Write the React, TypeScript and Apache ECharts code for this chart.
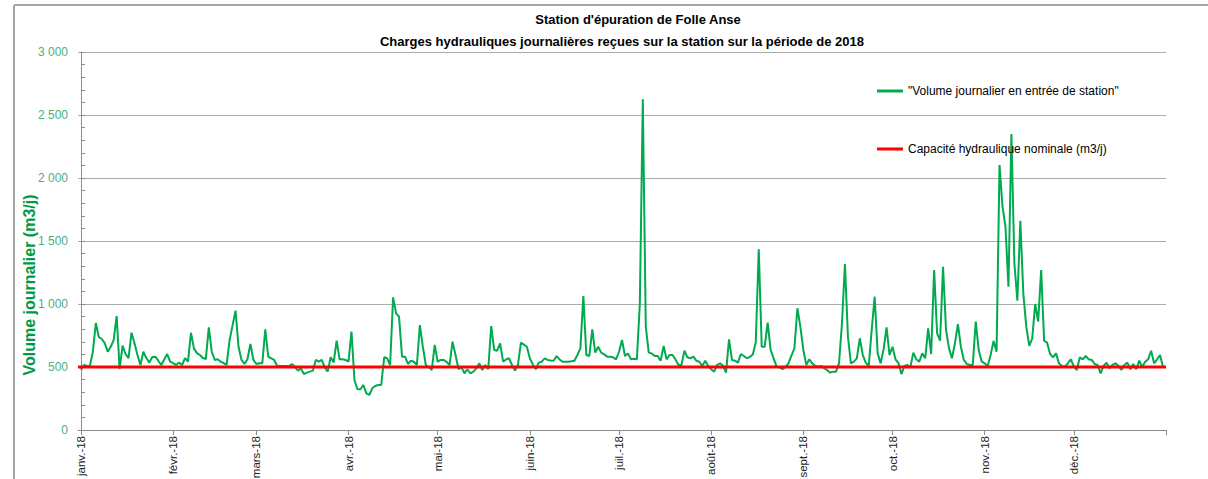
import React, { useEffect, useRef } from "react";
import * as echarts from "echarts";

const FONT = '"Liberation Sans", Arial, sans-serif';

const monthStarts = [0, 31, 59, 90, 120, 151, 181, 212, 243, 273, 304, 334];
const monthLabels = ["janv.-18", "févr.-18", "mars-18", "avr.-18", "mai-18", "juin-18", "juil.-18", "août-18", "sept.-18", "oct.-18", "nov.-18", "déc.-18"];
const yTicks = [0, 500, 1000, 1500, 2000, 2500, 3000];

const jan = [476, 516, 508, 510, 621, 849, 738, 722, 690, 621, 660, 714, 905, 484, 669, 603, 571, 772, 690, 595, 516, 621, 571, 535, 579, 582, 550, 516, 560, 603, 542];
const feb = [530, 516, 535, 516, 571, 542, 772, 648, 610, 595, 571, 563, 815, 621, 556, 561, 542, 530, 516, 714, 830, 947, 661, 556, 524, 561, 683, 556];
const mar = [524, 529, 530, 799, 582, 569, 556, 508, 508, 508, 508, 508, 524, 497, 471, 489, 444, 455, 463, 471, 556, 542, 556, 497, 463, 577, 535, 709, 561, 561, 556];
const apr = [542, 780, 397, 323, 323, 357, 291, 278, 331, 349, 357, 357, 577, 569, 516, 1053, 926, 899, 582, 582, 524, 550, 542, 516, 833, 661, 516, 497, 476, 675];
const may = [542, 556, 556, 540, 516, 701, 595, 482, 497, 450, 482, 450, 463, 489, 529, 476, 516, 482, 825, 635, 629, 688, 542, 560, 569, 516, 471, 516, 693, 677, 661];
const jun = [569, 520, 482, 535, 542, 569, 556, 552, 550, 587, 560, 542, 542, 542, 545, 550, 595, 648, 1064, 595, 587, 799, 614, 661, 614, 600, 582, 582, 577, 561];
const jul = [621, 714, 587, 608, 561, 565, 561, 1000, 2625, 820, 614, 608, 587, 587, 550, 667, 561, 595, 595, 560, 516, 516, 629, 577, 569, 582, 550, 542, 508, 550, 508];
const aug = [482, 463, 516, 529, 510, 455, 720, 556, 550, 535, 603, 587, 569, 580, 600, 697, 1434, 661, 661, 852, 635, 569, 503, 497, 482, 500, 529, 590, 648, 966, 820];
const sep = [635, 516, 561, 529, 508, 503, 508, 490, 476, 455, 463, 463, 529, 847, 1318, 741, 529, 542, 569, 728, 595, 535, 508, 794, 1058, 608, 529, 640, 815, 595];
const oct = [661, 561, 530, 444, 508, 516, 497, 614, 561, 542, 608, 569, 807, 603, 1270, 767, 709, 1296, 794, 648, 569, 688, 841, 661, 556, 524, 516, 516, 860, 635, 542];
const nov = [529, 508, 595, 706, 621, 2103, 1772, 1613, 1137, 2349, 1323, 1026, 1661, 1085, 820, 667, 728, 1000, 860, 1270, 709, 693, 603, 577, 608, 529, 508, 503, 530, 561];
const dec = [503, 476, 577, 561, 587, 561, 556, 524, 516, 450, 508, 535, 489, 516, 529, 508, 476, 516, 535, 482, 524, 482, 550, 500, 542, 561, 629, 529, 561, 595, 500];

const dailyVolume = [...jan, ...feb, ...mar, ...apr, ...may, ...jun, ...jul, ...aug, ...sep, ...oct, ...nov, ...dec];
const capacity = 500;

const NAME_VOL = '"Volume journalier en entrée de station"';
const NAME_CAP = "Capacité hydraulique nominale (m3/j)";

export default function App() {
  const ref = useRef<HTMLDivElement>(null);
  useEffect(() => {
    document.body.style.margin = "0";
    const chart = echarts.init(ref.current!, null, { renderer: "svg" });
    const option: any = {
      animation: false,
      backgroundColor: "#ffffff",
      grid: { left: 78, right: 42, top: 52, bottom: 49, containLabel: false, outerBoundsMode: "none" },
      legend: {
        orient: "vertical",
        left: 872,
        top: 80,
        itemGap: 46,
        itemWidth: 26,
        itemHeight: 3,
        textStyle: { fontFamily: FONT, fontSize: 12, color: "#000" },
        data: [
          { name: NAME_VOL, icon: "rect", itemStyle: { color: "#00AA4F" } },
          { name: NAME_CAP, icon: "rect", itemStyle: { color: "#FF0000" } },
        ],
      },
      xAxis: {
        type: "value",
        min: -1,
        max: 365,
        axisLine: { lineStyle: { color: "#8c8c8c", width: 1 } },
        axisTick: { show: true, length: 5, lineStyle: { color: "#8c8c8c" }, customValues: [...monthStarts, 365] },
        axisLabel: {
          customValues: monthStarts,
          rotate: 90,
          margin: 6,
          fontFamily: FONT,
          fontSize: 11.5,
          color: "#222",
          formatter: (v: number) => monthLabels[monthStarts.indexOf(Math.round(v))] || "",
        },
        splitLine: { show: false },
      },
      yAxis: {
        type: "value",
        min: 0,
        max: 3000,
        interval: 500,
        axisLine: { show: true, lineStyle: { color: "#8c8c8c", width: 1 } },
        axisTick: { show: true, inside: true, length: 4, lineStyle: { color: "#8c8c8c" } },
        minorTick: { show: true, splitNumber: 5, length: 4, lineStyle: { color: "#8c8c8c" } },
        axisLabel: {
          margin: 10,
          fontFamily: FONT,
          fontSize: 12,
          color: "#4CAF7D",
          formatter: (v: number) => (v >= 1000 ? Math.floor(v / 1000) + " " + String(v % 1000).padStart(3, "0") : String(v)),
        },
        splitLine: { show: true, lineStyle: { color: "#ababab", width: 1 } },
      },
      series: [
        {
          name: NAME_VOL,
          type: "line",
          data: dailyVolume.map((v, i) => [i, v]),
          showSymbol: false,
          symbol: "none",
          lineStyle: { color: "#00AA4F", width: 2 },
          itemStyle: { color: "#00AA4F" },
          z: 2,
        },
        {
          name: NAME_CAP,
          type: "line",
          data: [[-1, capacity], [365, capacity]],
          showSymbol: false,
          symbol: "none",
          lineStyle: { color: "#FF0000", width: 3 },
          itemStyle: { color: "#FF0000" },
          z: 3,
        },
      ],
      graphic: [
        { type: "line", shape: { x1: 14, y1: 5, x2: 1208, y2: 5 }, style: { stroke: "#a6a6a6", lineWidth: 2 } },
        { type: "line", shape: { x1: 14, y1: 5, x2: 14, y2: 479 }, style: { stroke: "#a6a6a6", lineWidth: 2 } },
        {
          type: "text",
          x: 638,
          y: 19,
          style: { text: "Station d'épuration de Folle Anse", font: `bold 13px ${FONT}`, fill: "#000", align: "center", verticalAlign: "middle" },
        },
        {
          type: "text",
          x: 622,
          y: 41,
          style: { text: "Charges hydrauliques journalières reçues sur la station sur la période de 2018", font: `bold 13px ${FONT}`, fill: "#000", align: "center", verticalAlign: "middle" },
        },
        {
          type: "text",
          x: 29,
          y: 285,
          rotation: Math.PI / 2,
          style: { text: "Volume journalier (m3/j)", font: `bold 16px ${FONT}`, fill: "#009A44", align: "center", verticalAlign: "middle" },
        },
      ],
    };
    chart.setOption(option);
    return () => chart.dispose();
  }, []);
  return <div ref={ref} style={{ width: 1208, height: 479 }} />;
}
